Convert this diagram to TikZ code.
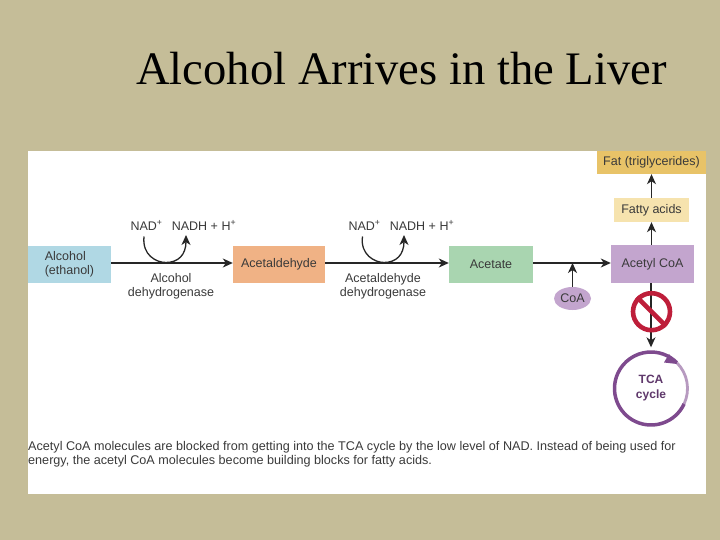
\documentclass[tikz,border=0pt]{standalone}
\usepackage{fontspec}
\setmainfont{Liberation Sans}
\newfontfamily\titlefont{Liberation Serif}
\usetikzlibrary{arrows.meta,shapes.geometric}
\definecolor{bgtan}{HTML}{C5BD98}
\definecolor{cblue}{HTML}{B0D8E4}
\definecolor{corange}{HTML}{F0B285}
\definecolor{cgreen}{HTML}{A9D5B0}
\definecolor{cpurple}{HTML}{C3A5CE}
\definecolor{cfat}{HTML}{E8C368}
\definecolor{cfatty}{HTML}{F6E3AE}
\definecolor{cring}{HTML}{7E4A8E}
\definecolor{cringl}{HTML}{B79AC0}
\definecolor{cno}{HTML}{BE1E3A}
\definecolor{ctext}{HTML}{3A3A3A}
\tikzset{
  box/.style={minimum height=37pt,inner sep=0pt,align=center,text=ctext,font=\fontsize{12.5}{13.5}\selectfont},
  lab/.style={inner sep=0pt,align=center,text=ctext,font=\fontsize{12.5}{14}\selectfont},
  flow/.style={draw=black!85,line width=1.2pt,-{Stealth[length=10pt,width=9pt,inset=3pt]}},
}
\begin{document}
\begin{tikzpicture}[x=1pt,y=-1pt]
\useasboundingbox (0,0) rectangle (720,540);
\fill[bgtan] (0,0) rectangle (720,540);
\fill[white] (28,151) rectangle (706,494);
\node[inner sep=0pt,anchor=center,text=black,font=\titlefont\fontsize{46.6}{50}\selectfont] (title) at (401.5,69) {Alcohol Arrives in the Liver};
\node[box,fill=cblue,minimum width=83pt,align=left] (alc) at (69.5,264.5) {Alcohol\\(ethanol)};
\node[box,fill=corange,minimum width=92pt] (ald) at (279,264.5) {Acetaldehyde};
\node[box,fill=cgreen,minimum width=84pt] (ace) at (491,264.5) {Acetate};
\node[box,fill=cpurple,minimum width=83pt,minimum height=38pt] (acoa) at (652.5,264) {Acetyl CoA};
\node[box,fill=cfatty,minimum width=75pt,minimum height=24pt] (fa) at (651.5,210) {Fatty acids};
\node[box,fill=cfat,minimum width=109pt,minimum height=23pt] (fat) at (651.5,162.5) {Fat (triglycerides)};
\node[ellipse,fill=cpurple,minimum width=37pt,minimum height=23pt,inner sep=0pt,text=ctext,font=\fontsize{12.5}{13.5}\selectfont] (coa) at (572.5,298.5) {CoA};
\node[lab] (n1) at (146.5,225.5) {NAD\textsuperscript{+}};
\node[lab] (h1) at (204,225.5) {NADH + H\textsuperscript{+}};
\node[lab] (n2) at (364.5,225.5) {NAD\textsuperscript{+}};
\node[lab] (h2) at (422,225.5) {NADH + H\textsuperscript{+}};
\node[lab] (e1) at (171,286) {Alcohol\\dehydrogenase};
\node[lab] (e2) at (383,286) {Acetaldehyde\\dehydrogenase};
\coordinate (j1) at (572.5,263);
\draw[flow] (alc.east |- 0,263) -- (ald.west |- 0,263);
\draw[flow] (ald.east |- 0,263) -- (ace.west |- 0,263);
\draw[flow] (ace.east |- 0,263) -- (acoa.west |- 0,263);
\draw[flow,line width=1.5pt] (coa.north) -- (j1);
\draw[flow] (fa.center |- acoa.north) -- (fa.south);
\draw[flow] (fa.north) -- (fat.south);
\coordinate (c1s) at (144,236.5);
\coordinate (c1e) at (186,235);
\coordinate (c2s) at (362.5,236.5);
\coordinate (c2e) at (404,235);
\draw[flow,line width=1.3pt] (c1s) .. controls (142,255) and (156,262.5) .. (166,262.5) .. controls (178,262.5) and (186,255) .. (c1e);
\draw[flow,line width=1.3pt] (c2s) .. controls (360,255) and (375,262.5) .. (384,262.5) .. controls (396,262.5) and (404,255) .. (c2e);
% TCA ring
\node[circle,minimum size=73pt,inner sep=0pt,align=center,text=cring!75!black,font=\bfseries\fontsize{12}{15}\selectfont] (tca) at (651,388.5) {TCA\\cycle};
\draw[cringl,line width=2.8pt] (tca.center) ++(-45:36.5) arc[start angle=-45,end angle=25,radius=36.5];
\draw[cring,line width=3.5pt] (tca.center) ++(25:36.5) arc[start angle=25,end angle=315,radius=36.5];
\coordinate (tip) at (677,364);
\fill[cring] (tip) -- (669,354) -- (664,362.5) -- cycle;
\draw[flow,shorten >=4.5pt] (tca.north |- acoa.south) -- (tca.north);
\node[circle,draw=cno,line width=4.6pt,minimum size=37pt,inner sep=0pt] (no) at (651.5,311.7) {};
\draw[cno,line width=4.6pt] (no.135) -- (no.-45);
\node[anchor=north west,inner sep=0pt,align=left,text=ctext,font=\fontsize{12.62}{13.8}\selectfont] (cap) at (28,441.5) {Acetyl CoA molecules are blocked from getting into the TCA cycle by the low level of NAD. Instead of being used for\\energy, the acetyl CoA molecules become building blocks for fatty acids.};
\end{tikzpicture}
\end{document}
